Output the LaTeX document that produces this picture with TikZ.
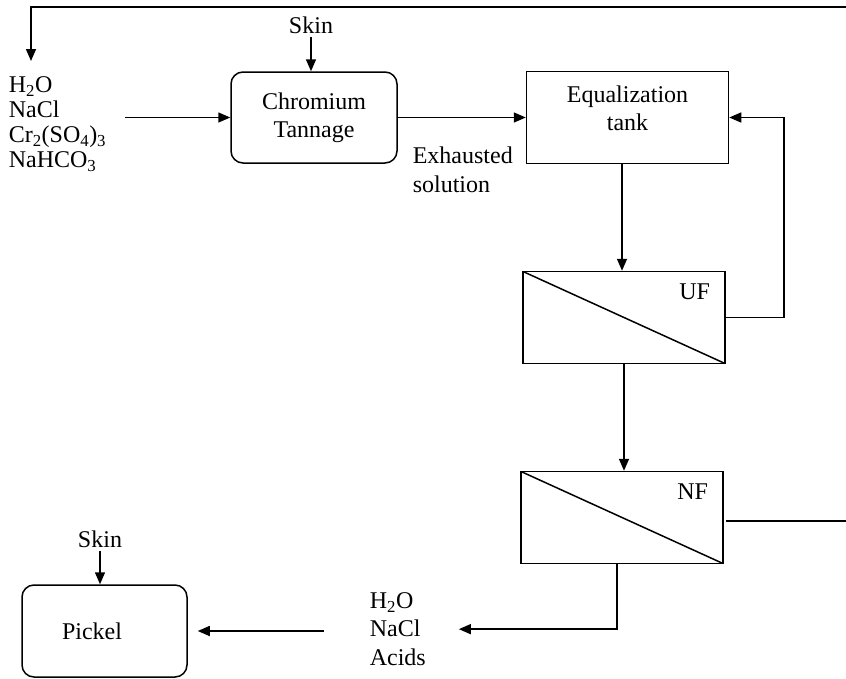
\documentclass[tikz,border=0pt]{standalone}
\usepackage{fontspec}
\setmainfont{Liberation Serif}
\usetikzlibrary{positioning,arrows.meta}

\begin{document}
\begin{tikzpicture}[
    x=1pt, y=-1pt,
    line width=1.5pt,
    font=\fontsize{24}{28}\selectfont,
    proc/.style={%
      draw,
      rectangle,
      rounded corners=12pt,
      minimum width=166pt,
      minimum height=91pt,
      align=center,
    },
    tank/.style={%
      draw,
      rectangle,
      minimum width=202pt,
      minimum height=92pt,
      align=center,
    },
    memb/.style={%
      tank,
      path picture={\draw (path picture bounding box.north west) -- (path picture bounding box.south east);},
      label={[anchor=north east,inner xsep=15pt,inner ysep=12pt]north east:#1},
    },
    chem/.style={%
      align=left,
      anchor=north west,
    },
    flow/.style={-{Triangle[length=12pt,width=10pt]}},
  ]

    \useasboundingbox (0,0) rectangle (846,678);

    \node [anchor=base] (A) at (311,33) {Skin};
    \node [proc] (B) at (314,117.5) {Chromium\\Tannage};
    \node [chem, font=\fontsize{24}{25}\selectfont] (I) at (4.7,73)
      {H\textsubscript{2}O\\NaCl\\Cr\textsubscript{2}(SO\textsubscript{4})\textsubscript{3}\\NaHCO\textsubscript{3}};
    \path (B) ++(313.5,0) node [tank, text depth=18pt] (C) {Equalization\\tank};
    \node [chem, font=\fontsize{24}{29}\selectfont] (D) at (408.7,143) {Exhausted\\solution};
    \path (C) ++(-3.5,200) node [memb=UF] (E) {};
    \path (E) ++(-2,200) node [memb=NF] (F) {};
    \node [chem, font=\fontsize{24}{28.5}\selectfont] (G) at (365.7,588.5) {H\textsubscript{2}O\\NaCl\\Acids};
    \node [proc, minimum width=165pt, minimum height=92pt, align=left, text width=85pt] (H) at (104.5,631) {Pickel};
    \node [anchor=base] (J) at (100,547) {Skin};
    \coordinate (K) at (846,7);
    \coordinate (L) at (846,521);

    \draw [flow, shorten >=12pt] (K) -| ([xshift=26.3pt]I.north west);
    \draw [flow] (A.south) -- (A.south |- B.north);
    \draw [flow, shorten <=15pt] (I.east |- B.west) -- (B.west);
    \draw [flow] (B.east) -- (B.east -| C.west);
    \draw [flow] ([xshift=-2pt]E.north |- C.south) -- ([xshift=-2pt]E.north);
    \draw [flow] (E.east) -- ++(58,0) |- (C.east);
    \draw [flow] (E.south) -- (E.south |- F.north);
    \draw [shorten <=2pt] (F.east |- L) -- (L);
    \draw [flow, shorten >=29pt] ([xshift=-5pt]F.south) |- (G.east);
    \draw [flow, shorten <=42pt, shorten >=10pt] (G.west |- H.east) -- (H.east);
    \draw [flow] (J.south) -- (J.south |- H.north);
\end{tikzpicture}
\end{document}
